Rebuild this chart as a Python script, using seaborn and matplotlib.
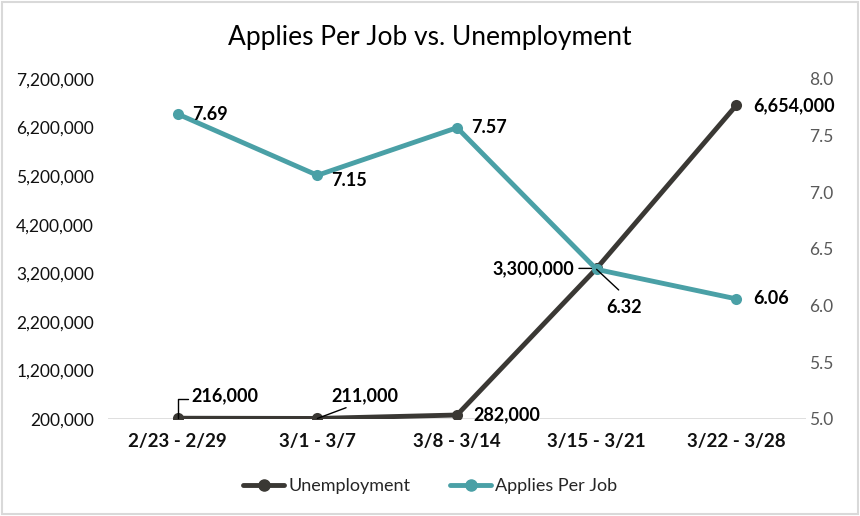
import matplotlib
matplotlib.use("Agg")
import matplotlib.pyplot as plt
import seaborn as sns
import pandas as pd
from matplotlib.lines import Line2D
from matplotlib.patches import Rectangle

weeks = ["2/23 - 2/29", "3/1 - 3/7", "3/8 - 3/14", "3/15 - 3/21", "3/22 - 3/28"]
unemployment = [216000, 211000, 282000, 3300000, 6654000]
applies_per_job = [7.69, 7.15, 7.57, 6.32, 6.06]
left_ticks = [200000, 1200000, 2200000, 3200000, 4200000, 5200000, 6200000, 7200000]
right_ticks = [5.0, 5.5, 6.0, 6.5, 7.0, 7.5, 8.0]

sns.set_theme(style="white")
plt.rcParams['font.family'] = ['Lato', 'DejaVu Sans']

dark = "#3a3834"
teal = "#4aa0a6"

df = pd.DataFrame({"week": weeks, "x": range(len(weeks)),
                   "unemp": unemployment, "apj": applies_per_job})

fig = plt.figure(figsize=(8.6, 5.16), dpi=100)
ax = fig.add_axes([0.1256, 0.188, 0.8116, 0.659])
ax2 = ax.twinx()

sns.lineplot(data=df, x="x", y="unemp", ax=ax, color=dark, lw=3.5,
             marker="o", markersize=8, markeredgewidth=0, zorder=3)
sns.lineplot(data=df, x="x", y="apj", ax=ax2, color=teal, lw=3.5,
             marker="o", markersize=8, markeredgewidth=0, zorder=3)

ax.set_xlim(-0.5, len(weeks) - 0.5)
ax.set_ylim(left_ticks[0], left_ticks[-1])
ax2.set_ylim(right_ticks[0], right_ticks[-1])
ax.set_yticks(left_ticks)
ax.set_yticklabels([f"{v:,}" for v in left_ticks], fontsize=12.5, color="#111111")
ax2.set_yticks(right_ticks)
ax2.set_yticklabels([f"{v:.1f}" for v in right_ticks], fontsize=12.5, color="#595959")
ax.set_xticks(range(len(weeks)))
ax.set_xticklabels(weeks, fontsize=13.5, fontweight="bold", color="#111111")
ax.set_xlabel("")
ax.set_ylabel("")
ax2.set_ylabel("")
for a in (ax, ax2):
    for s in a.spines.values():
        s.set_visible(False)
    a.tick_params(length=0)
ax.tick_params(axis="y", pad=10)
ax.tick_params(axis="x", pad=10)
ax2.tick_params(axis="y", pad=2)
ax.axhline(left_ticks[0], color="#d9d9d9", lw=1.2, zorder=1)

bold = dict(fontsize=13, fontweight="bold", color="black")
# Unemployment labels
ax.annotate(f"{unemployment[0]:,}", xy=(0, unemployment[0]), xytext=(0.1, 500000),
            ha="left", va="bottom", **bold,
            arrowprops=dict(arrowstyle="-", color="black", lw=1,
                            connectionstyle="angle,angleA=0,angleB=90,rad=0",
                            shrinkA=0, shrinkB=0, relpos=(0, 0.3)))
ax.annotate(f"{unemployment[1]:,}", xy=(1, unemployment[1]), xytext=(1.1, 500000),
            ha="left", va="bottom", **bold,
            arrowprops=dict(arrowstyle="-", color="black", lw=1,
                            shrinkA=0, shrinkB=0, relpos=(0.35, 0)))
ax.annotate(f"{unemployment[2]:,}", xy=(2, unemployment[2]), xytext=(12, 0),
            textcoords="offset points", ha="left", va="center", **bold)
ax.annotate(f"{unemployment[3]:,}", xy=(3, unemployment[3]), xytext=(2.84, unemployment[3]),
            ha="right", va="center", **bold,
            arrowprops=dict(arrowstyle="-", color="black", lw=1,
                            shrinkA=1, shrinkB=0, relpos=(1, 0.5)))
ax.annotate(f"{unemployment[4]:,}", xy=(4, unemployment[4]), xytext=(12, 0),
            textcoords="offset points", ha="left", va="center", **bold)

# Applies per job labels
ax2.annotate(f"{applies_per_job[0]:.2f}", xy=(0, applies_per_job[0]), xytext=(10, 0),
             textcoords="offset points", ha="left", va="center", **bold)
ax2.annotate(f"{applies_per_job[1]:.2f}", xy=(1, applies_per_job[1]), xytext=(10, -4),
             textcoords="offset points", ha="left", va="center", **bold)
ax2.annotate(f"{applies_per_job[2]:.2f}", xy=(2, applies_per_job[2]), xytext=(10, 0),
             textcoords="offset points", ha="left", va="center", **bold)
ax2.annotate(f"{applies_per_job[3]:.2f}", xy=(3, applies_per_job[3]), xytext=(3.2, 6.06),
             ha="center", va="top", **bold,
             arrowprops=dict(arrowstyle="-", color="black", lw=1,
                             shrinkA=4, shrinkB=0, relpos=(0.45, 1.3)))
ax2.annotate(f"{applies_per_job[4]:.2f}", xy=(4, applies_per_job[4]), xytext=(12, 0),
             textcoords="offset points", ha="left", va="center", **bold)

fig.suptitle("Applies Per Job vs. Unemployment", fontsize=19, y=0.952, color="black")

handles = [Line2D([], [], color=dark, lw=3.5, marker="o", markersize=8),
           Line2D([], [], color=teal, lw=3.5, marker="o", markersize=8)]
fig.legend(handles, ["Unemployment", "Applies Per Job"], loc="center",
           bbox_to_anchor=(0.5, 0.058), ncol=2, frameon=False, fontsize=13,
           handlelength=2.3, handletextpad=0.2, columnspacing=2.2)
for a in (ax, ax2):
    if a.get_legend():
        a.get_legend().remove()

fig.patches.append(Rectangle((0.002, 0.003), 0.996, 0.994, transform=fig.transFigure,
                             fill=False, edgecolor="#d9d9d9", lw=1.5))
fig.savefig("out.png", dpi=100)
